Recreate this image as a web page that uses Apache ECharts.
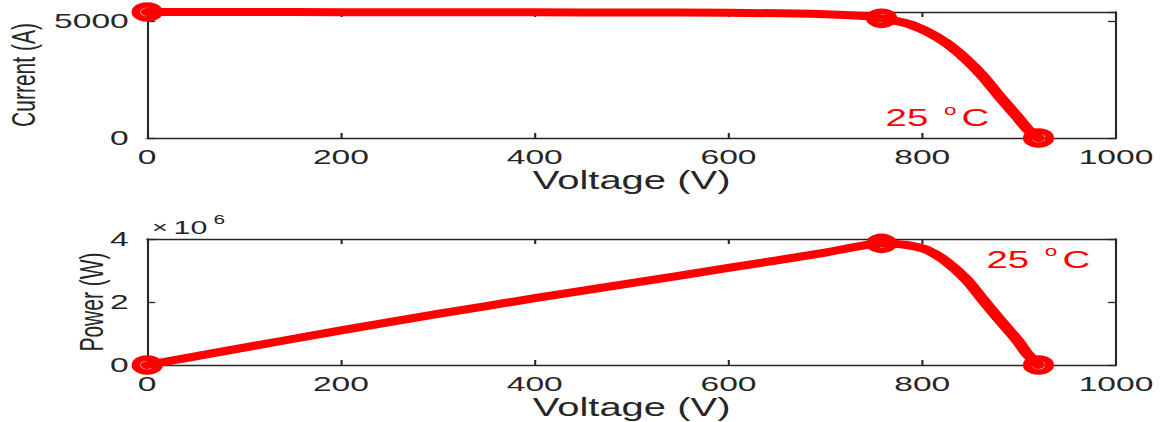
<!DOCTYPE html>
<html>
<head>
<meta charset="utf-8">
<script src="https://cdn.jsdelivr.net/npm/echarts@6/dist/echarts.min.js"></script>
<style>
  html, body { margin: 0; padding: 0; background: #ffffff; overflow: hidden; }
  #wrap { width: 1160px; height: 422px; position: relative; overflow: hidden; }
  #chart { width: 725px; height: 422px; transform: scaleX(1.6); transform-origin: 0 0; }
</style>
</head>
<body>
<div id="wrap"><div id="chart"></div></div>
<script>
// ---- data ----
var voltageTicks = [0, 200, 400, 600, 800, 1000];
var currentTicks = [0, 5000];
var powerTicks = [0, 2, 4];            // x 10^6

// I-V curve (Voltage V, Current A)
var ivVoltage = [0, 100, 200, 300, 400, 500, 600, 700, 740, 758, 784, 805, 825, 846, 863, 880, 898, 908, 920];
var ivCurrent = [5385, 5382, 5378, 5374, 5370, 5362, 5352, 5290, 5210, 5115, 4900, 4545, 4050, 3335, 2620, 1765, 910, 415, 0];

// P-V curve (Voltage V, Power W)
var pvVoltage = [0, 100, 200, 300, 400, 500, 600, 700, 758, 784, 805, 825, 846, 863, 880, 898, 908, 920];
var pvPower = [0, 550000, 1100000, 1620000, 2120000, 2600000, 3080000, 3570000, 3860000, 3810000, 3650000, 3280000, 2700000, 2060000, 1430000, 790000, 370000, 0];

// key points: short circuit, maximum power point, open circuit
var keyVoltage = [0, 758, 920];
var keyCurrent = [5385, 5115, 0];
var keyPower = [0, 3860000, 0];

var tempLabel = '25';
// --------------------------------------

function pairs(xs, ys) { return xs.map(function (x, i) { return [x, ys[i]]; }); }

var RED = '#ff0000';
var AX = '#262626';
var FONT = '"Liberation Sans", Arial, Helvetica, sans-serif';

function xAx(grid, showLabels) {
  return {
    type: 'value', gridIndex: grid, min: 0, max: 1000, interval: 200,
    position: showLabels ? 'bottom' : 'top',
    name: showLabels ? 'Voltage (V)' : '',
    nameLocation: 'middle', nameGap: 29,
    nameTextStyle: { fontFamily: FONT, fontSize: 25, color: AX },
    axisLine: { show: true, onZero: false, lineStyle: { color: AX, width: 1.3 } },
    axisTick: { show: true, inside: true, length: 5, lineStyle: { color: AX, width: 1.3 } },
    axisLabel: { show: showLabels, margin: 8, fontFamily: FONT, fontSize: 21, color: AX,
      formatter: function (v) { return voltageTicks.indexOf(v) >= 0 ? String(v) : ''; } },
    splitLine: { show: false }
  };
}

function yAx(grid, left, max, interval, name, gap, fmt) {
  return {
    type: 'value', gridIndex: grid, min: 0, max: max, interval: interval,
    position: left ? 'left' : 'right',
    name: left ? name : '',
    nameLocation: 'middle', nameGap: gap, nameMoveOverlap: false,
    nameTextStyle: { fontFamily: FONT, fontSize: 21, color: AX },
    axisLine: { show: true, onZero: false, lineStyle: { color: AX, width: 1.3 } },
    axisTick: { show: true, inside: true, length: 5, lineStyle: { color: AX, width: 1.3 } },
    axisLabel: { show: left, margin: 11.5, fontFamily: FONT, fontSize: 21, color: AX, formatter: fmt },
    splitLine: { show: false }
  };
}

var chart = echarts.init(document.getElementById('chart'), null, { renderer: 'svg' });

var option = {
  animation: false,
  backgroundColor: '#ffffff',
  grid: [
    { left: 92, right: 27.5, top: 12, height: 126, containLabel: false, outerBoundsMode: 'none' },
    { left: 92, right: 27.5, top: 239, height: 126, containLabel: false, outerBoundsMode: 'none' }
  ],
  xAxis: [xAx(0, true), xAx(0, false), xAx(1, true), xAx(1, false)],
  yAxis: [
    yAx(0, true, 5385, 5000, 'Current (A)', 67, function (v) { return currentTicks.indexOf(v) >= 0 ? String(v) : ''; }),
    yAx(0, false, 5385, 5000, '', 0, null),
    yAx(1, true, 4000000, 2000000, 'Power (W)', 24, function (v) { var t = v / 1e6; return powerTicks.indexOf(t) >= 0 ? String(t) : ''; }),
    yAx(1, false, 4000000, 2000000, '', 0, null)
  ],
  series: [
    {
      type: 'line', xAxisIndex: 0, yAxisIndex: 0, data: pairs(ivVoltage, ivCurrent),
      smooth: 0.25, showSymbol: false, clip: false,
      lineStyle: { color: RED, width: 8, cap: 'round', join: 'round' }, z: 3
    },
    {
      type: 'scatter', xAxisIndex: 0, yAxisIndex: 0, data: pairs(keyVoltage, keyCurrent),
      symbol: 'circle', symbolSize: 14, clip: false,
      itemStyle: { color: 'rgba(255,255,255,0)', borderColor: RED, borderWidth: 5.5, opacity: 1 }, z: 4
    },
    {
      type: 'line', xAxisIndex: 2, yAxisIndex: 2, data: pairs(pvVoltage, pvPower),
      smooth: 0.25, showSymbol: false, clip: false,
      lineStyle: { color: RED, width: 8, cap: 'round', join: 'round' }, z: 3
    },
    {
      type: 'scatter', xAxisIndex: 2, yAxisIndex: 2, data: pairs(keyVoltage, keyPower),
      symbol: 'circle', symbolSize: 14, clip: false,
      itemStyle: { color: 'rgba(255,255,255,0)', borderColor: RED, borderWidth: 5.5, opacity: 1 }, z: 4
    }
  ],
  graphic: [
    // top annotation
    { type: 'text', left: 553.5, top: 106, z: 10, style: { text: tempLabel, fontFamily: FONT, fontSize: 24, fill: RED } },
    { type: 'text', left: 590, top: 103, z: 10, style: { text: 'o', fontFamily: FONT, fontSize: 14, fill: RED } },
    { type: 'text', left: 601, top: 106, z: 10, style: { text: 'C', fontFamily: FONT, fontSize: 24, fill: RED } },
    // bottom annotation
    { type: 'text', left: 616.5, top: 247.5, z: 10, style: { text: tempLabel, fontFamily: FONT, fontSize: 24, fill: RED } },
    { type: 'text', left: 653, top: 244.5, z: 10, style: { text: 'o', fontFamily: FONT, fontSize: 14, fill: RED } },
    { type: 'text', left: 664, top: 247.5, z: 10, style: { text: 'C', fontFamily: FONT, fontSize: 24, fill: RED } },
    // exponent
    { type: 'text', left: 95, top: 219, z: 10, style: { text: '\u00d7', fontFamily: FONT, fontSize: 17, fill: AX } },
    { type: 'text', left: 108.5, top: 218, z: 10, style: { text: '10', fontFamily: FONT, fontSize: 19, fill: AX } },
    { type: 'text', left: 133.5, top: 213, z: 10, style: { text: '6', fontFamily: FONT, fontSize: 13, fill: AX } }
  ]
};

chart.setOption(option);
</script>
</body>
</html>
